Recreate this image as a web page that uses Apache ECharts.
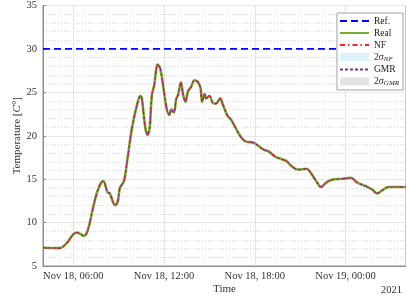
<!DOCTYPE html>
<html>
<head>
<meta charset="utf-8">
<script src="https://cdn.jsdelivr.net/npm/echarts@6/dist/echarts.min.js"></script>
<style>
  html, body { margin: 0; padding: 0; background: #fff; }
  #chart { width: 406px; height: 300px; }
</style>
</head>
<body>
<div id="chart"></div>
<script>
// times (local time)
var times = [
  '2021-11-18 04:00', '2021-11-18 05:07', '2021-11-18 05:33', '2021-11-18 05:59',
  '2021-11-18 06:12', '2021-11-18 06:28', '2021-11-18 06:42', '2021-11-18 06:57',
  '2021-11-18 07:17', '2021-11-18 07:30', '2021-11-18 07:47', '2021-11-18 07:59',
  '2021-11-18 08:16', '2021-11-18 08:25', '2021-11-18 08:46', '2021-11-18 08:57',
  '2021-11-18 09:05', '2021-11-18 09:21', '2021-11-18 09:33', '2021-11-18 09:53',
  '2021-11-18 10:13', '2021-11-18 10:26', '2021-11-18 10:32', '2021-11-18 10:46',
  '2021-11-18 10:55', '2021-11-18 11:03', '2021-11-18 11:12', '2021-11-18 11:21',
  '2021-11-18 11:35', '2021-11-18 11:45', '2021-11-18 11:58', '2021-11-18 12:10',
  '2021-11-18 12:21', '2021-11-18 12:30', '2021-11-18 12:39', '2021-11-18 12:49',
  '2021-11-18 12:56', '2021-11-18 13:07', '2021-11-18 13:16', '2021-11-18 13:25',
  '2021-11-18 13:35', '2021-11-18 13:48', '2021-11-18 14:01', '2021-11-18 14:14',
  '2021-11-18 14:25', '2021-11-18 14:31', '2021-11-18 14:41', '2021-11-18 14:47',
  '2021-11-18 15:00', '2021-11-18 15:13', '2021-11-18 15:26', '2021-11-18 15:43',
  '2021-11-18 15:52', '2021-11-18 16:12', '2021-11-18 16:25', '2021-11-18 16:44',
  '2021-11-18 17:04', '2021-11-18 17:23', '2021-11-18 17:56', '2021-11-18 18:16',
  '2021-11-18 18:35', '2021-11-18 18:55', '2021-11-18 19:21', '2021-11-18 19:47',
  '2021-11-18 20:07', '2021-11-18 20:26', '2021-11-18 20:52', '2021-11-18 21:25',
  '2021-11-18 21:38', '2021-11-18 22:04', '2021-11-18 22:23', '2021-11-18 22:43',
  '2021-11-18 23:09', '2021-11-18 23:49', '2021-11-19 00:21', '2021-11-19 00:47',
  '2021-11-19 01:20', '2021-11-19 01:46', '2021-11-19 02:05', '2021-11-19 02:25',
  '2021-11-19 02:51', '2021-11-19 03:37', '2021-11-19 04:00'
];

// measured temperature (Real, NF and GMR lie on top of each other)
var temps = [
  7.1, 7.06, 7.6, 8.6,
  8.86, 8.7, 8.47, 9.05,
  11.5, 13.05, 14.4, 14.77,
  13.5, 13.36, 12.0, 12.5,
  14.0, 14.77, 16.9, 20.9,
  23.55, 24.6, 24.3, 20.9,
  20.1, 20.9, 24.7, 25.8,
  28.2, 27.75, 25.5, 23.2,
  22.4, 23.05, 22.67, 24.3,
  24.7, 26.15, 24.7, 23.9,
  25.1, 25.65, 26.4, 26.2,
  25.5, 23.9, 24.8, 24.3,
  24.6, 23.8, 23.7, 24.3,
  23.7, 22.3, 21.9, 20.9,
  19.9, 19.35, 19.2, 18.8,
  18.4, 18.2, 17.6, 17.3,
  17.05, 16.5, 16.1, 16.2,
  15.9, 14.77, 14.1, 14.6,
  14.96, 15.04, 15.15, 14.6,
  14.2, 13.8, 13.36, 13.7,
  14.1, 14.1, 14.1
];

var refTemp = 30;
var xTicks = ['2021-11-18 06:00', '2021-11-18 12:00', '2021-11-18 18:00', '2021-11-19 00:00'];
var yTicks = [5, 10, 15, 20, 25, 30, 35];
var months = ['Jan', 'Feb', 'Mar', 'Apr', 'May', 'Jun', 'Jul', 'Aug', 'Sep', 'Oct', 'Nov', 'Dec'];

var serif = '"Liberation Serif", "DejaVu Serif", serif';

var chart = echarts.init(document.getElementById('chart'), null, {renderer: 'canvas'});

function pad(n) { return (n < 10 ? '0' : '') + n; }
function ts(s) { return echarts.time.parse(s).getTime(); }

var data = [];
for (var i = 0; i < times.length; i++) {
  data.push([ts(times[i]), temps[i]]);
}

var tMin = ts(times[0]);
var tMax = ts(times[times.length - 1]);
var tickVals = xTicks.map(ts);

var legendNames = {
  'Ref.': 'Ref.',
  'Real': 'Real',
  'NF': 'NF',
  'sNF': '2σ{sub|NF}',
  'GMR': 'GMR',
  'sGMR': '2σ{sub|GMR}'
};

var option = {
  animation: false,
  textStyle: {fontFamily: serif},
  grid: {
    left: 43, right: -5, top: 5, bottom: 33,
    show: true, borderColor: '#8c8c8c', borderWidth: 1
  },
  legend: {
    orient: 'vertical',
    right: 3,
    top: 13,
    itemWidth: 29,
    itemHeight: 8,
    itemGap: 2,
    padding: [3, 4, 3, 2],
    backgroundColor: '#fff',
    borderColor: '#a0a0a0',
    borderWidth: 1,
    itemStyle: {opacity: 0},
    data: [
      'Ref.', 'Real', 'NF',
      {name: 'sNF', icon: 'rect', itemStyle: {color: '#dcf2fa', opacity: 1}},
      'GMR',
      {name: 'sGMR', icon: 'rect', itemStyle: {color: '#e3e3e3', opacity: 1}}
    ],
    formatter: function(name) { return legendNames[name]; },
    textStyle: {
      fontFamily: serif, fontSize: 9.5, color: '#222',
      rich: {
        sub: {fontFamily: serif, fontSize: 7, fontStyle: 'italic', color: '#222', padding: [4, 0, 0, 0]}
      }
    }
  },
  xAxis: {
    type: 'value',
    min: tMin,
    max: tMax,
    name: 'Time',
    nameLocation: 'middle',
    nameGap: 18,
    nameMoveOverlap: false,
    nameTextStyle: {fontFamily: serif, fontSize: 11, color: '#333'},
    axisLine: {lineStyle: {color: '#8c8c8c'}},
    axisTick: {inside: true, length: 3, customValues: tickVals, lineStyle: {color: '#8c8c8c'}},
    axisLabel: {
      fontFamily: serif, fontSize: 10.5, color: '#333', margin: 5,
      customValues: tickVals,
      formatter: function(v) {
        var d = new Date(v);
        return months[d.getMonth()] + ' ' + d.getDate() + ', ' + pad(d.getHours()) + ':' + pad(d.getMinutes());
      }
    },
    splitLine: {show: false}
  },
  yAxis: {
    type: 'value',
    min: yTicks[0],
    max: yTicks[yTicks.length - 1],
    interval: 5,
    name: 'Temperature [{it|C°}]',
    nameLocation: 'middle',
    nameGap: 20,
    nameMoveOverlap: false,
    nameTextStyle: {
      fontFamily: serif, fontSize: 11, color: '#333',
      rich: {it: {fontFamily: serif, fontSize: 11, fontStyle: 'italic', color: '#333'}}
    },
    axisLine: {show: true, lineStyle: {color: '#8c8c8c'}},
    axisTick: {show: true, inside: true, length: 3, lineStyle: {color: '#8c8c8c'}},
    axisLabel: {fontFamily: serif, fontSize: 10.5, color: '#333', margin: 6},
    splitLine: {show: true, lineStyle: {color: '#e8e8e8', width: 1.2}},
    minorTick: {show: false, splitNumber: 5},
    minorSplitLine: {show: true, lineStyle: {color: '#d9d9d9', type: [1, 2], width: 1}}
  },
  graphic: [{
    type: 'text',
    left: 381,
    top: 285,
    style: {text: '2021', fontFamily: serif, fontSize: 10.5, fill: '#333'}
  }],
  series: [
    {
      name: 'Ref.',
      type: 'line',
      symbol: 'none',
      data: [[tMin, refTemp], [tMax, refTemp]],
      lineStyle: {color: '#0000ff', width: 1.6, type: [7, 4]},
      itemStyle: {color: '#0000ff'},
      // vertical grid lines at the labelled times
      markLine: {
        silent: true,
        symbol: 'none',
        label: {show: false},
        lineStyle: {color: '#e3e3e3', width: 1, type: 'solid'},
        z: 1,
        data: tickVals.map(function(v) { return {xAxis: v}; })
      },
      z: 3
    },
    {
      name: 'Real',
      type: 'line',
      symbol: 'none',
      smooth: 0.35,
      data: data,
      lineStyle: {color: '#77ac30', width: 2.6},
      itemStyle: {color: '#77ac30'},
      z: 4
    },
    {
      name: 'NF',
      type: 'line',
      symbol: 'none',
      smooth: 0.35,
      data: data,
      lineStyle: {color: '#ff2020', width: 1.2, type: [5, 3, 1.5, 3]},
      itemStyle: {color: '#ff2020'},
      z: 5
    },
    {
      name: 'sNF',
      type: 'line',
      symbol: 'none',
      data: [],
      lineStyle: {width: 0},
      itemStyle: {color: '#dcf2fa'}
    },
    {
      name: 'GMR',
      type: 'line',
      symbol: 'none',
      smooth: 0.35,
      data: data,
      lineStyle: {color: '#7e2f8e', width: 1.1, type: [3, 2]},
      itemStyle: {color: '#7e2f8e'},
      z: 6
    },
    {
      name: 'sGMR',
      type: 'line',
      symbol: 'none',
      data: [],
      lineStyle: {width: 0},
      itemStyle: {color: '#e3e3e3'}
    }
  ]
};

chart.setOption(option);
</script>
</body>
</html>
